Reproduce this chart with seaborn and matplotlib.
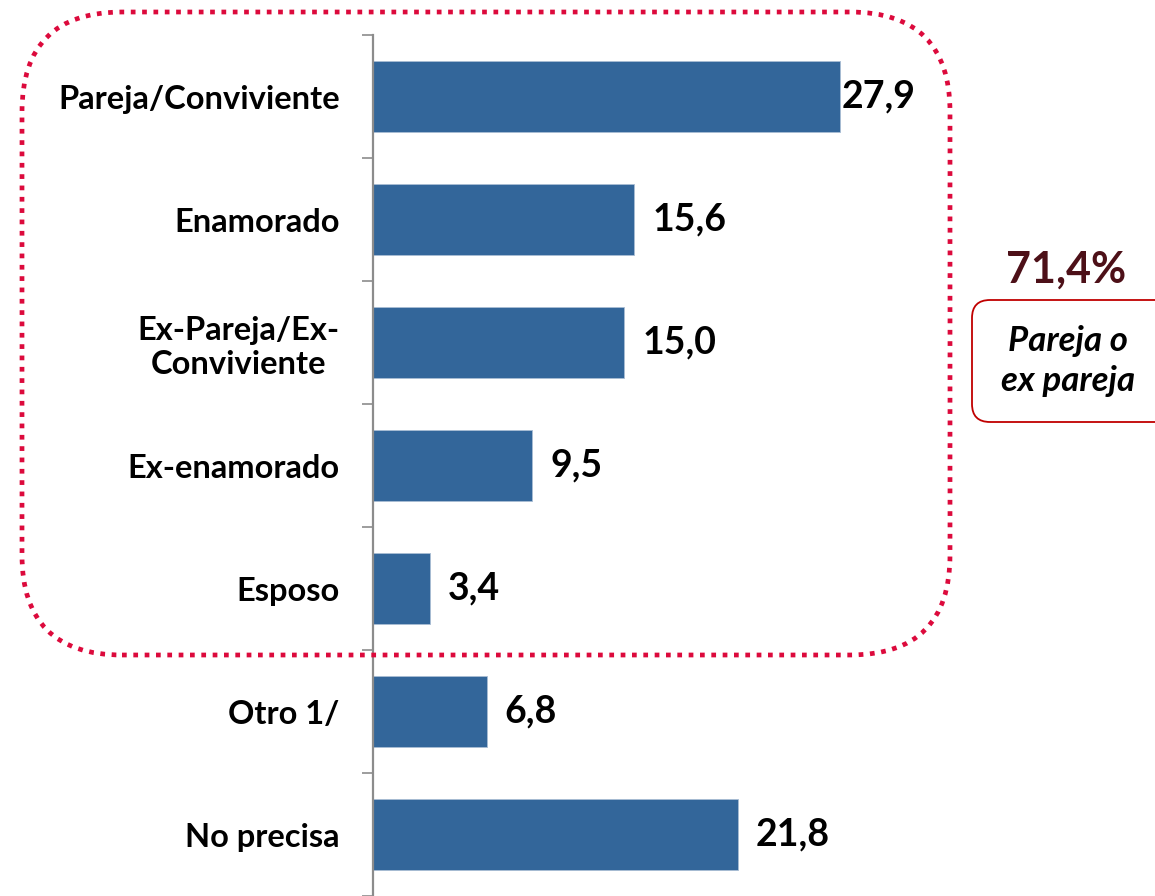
import matplotlib
matplotlib.use("Agg")
import matplotlib.pyplot as plt
import seaborn as sns
import pandas as pd
from matplotlib.patches import FancyBboxPatch
from matplotlib.transforms import IdentityTransform

categories = ["Pareja/Conviviente", "Enamorado", "Ex-Pareja/Ex-\nConviviente", "Ex-enamorado",
              "Esposo", "Otro 1/", "No precisa"]
values = [27.9, 15.6, 15.0, 9.5, 3.4, 6.8, 21.8]
value_labels = ["27,9", "15,6", "15,0", "9,5", "3,4", "6,8", "21,8"]
total_label = "71,4%"
total_caption = "Pareja o\nex pareja"

sns.set_theme(style="white")
plt.rcParams['font.family'] = ['Lato', 'DejaVu Sans']

W, H, DPI = 1155, 896, 100
fig = plt.figure(figsize=(W / DPI, H / DPI), dpi=DPI)
ax = fig.add_axes([373 / W, 0.0, 1 - 373 / W, 1 - 35 / H])

df = pd.DataFrame({"cat": categories, "val": values})
sns.barplot(data=df, x="val", y="cat", orient="h", color="#33669A", width=0.585,
            edgecolor="#a9bdd4", linewidth=0.6, saturation=1, ax=ax)

ax.set_xlim(0, (W - 373) / 16.74)
ax.set_ylim(len(categories) - 0.5, -0.5)
ax.set_xlabel("")
ax.set_ylabel("")
ax.set_xticks([])
for s in ["top", "right", "bottom"]:
    ax.spines[s].set_visible(False)
ax.spines["left"].set_color("#8c8c8c")
ax.spines["left"].set_linewidth(1.6)

ax.set_yticks([i - 0.5 for i in range(len(categories) + 1)], minor=True)
ax.tick_params(axis="y", which="minor", direction="out", length=8, width=1.2, color="#8c8c8c", left=True)
ax.tick_params(axis="y", which="major", length=0, pad=24)
ax.set_yticks(range(len(categories)))
ax.set_yticklabels(categories, fontsize=23.5, fontweight="bold", color="black",
                   linespacing=1.2)
for t in ax.get_yticklabels():
    t.set_multialignment("center")

for i, (v, lab) in enumerate(zip(values, value_labels)):
    pad = 2 if i == 0 else 18
    ax.annotate(lab, xy=(v, i), xytext=(pad, 0), textcoords="offset pixels",
                ha="left", va="center", fontsize=27, fontweight="bold", color="black")

# dotted rounded frame (pixel coords)
frame = FancyBboxPatch((22, H - 655), 950 - 22, 655 - 12,
                       boxstyle="round,pad=0,rounding_size=100",
                       transform=IdentityTransform(), fill=False,
                       edgecolor="#DC0A3C", linewidth=3.4,
                       linestyle=(0, (1, 1.4)), capstyle="butt")
frame.set_clip_on(False)
fig.patches.append(frame)

box = FancyBboxPatch((972, H - 422), 1200 - 972, 422 - 300,
                     boxstyle="round,pad=0,rounding_size=18",
                     transform=IdentityTransform(), fill=False,
                     edgecolor="#C00000", linewidth=1.3)
fig.patches.append(box)

fig.text(1066 / W, 1 - 270 / H, total_label, ha="center", va="center",
         fontsize=31, fontweight="bold", color="#4D1018")
fig.text(1068 / W, 1 - 361 / H, total_caption, ha="center", va="center",
         fontsize=25, fontweight="bold", fontstyle="italic", color="black",
         linespacing=1.3)

fig.savefig("out.png", dpi=DPI)
